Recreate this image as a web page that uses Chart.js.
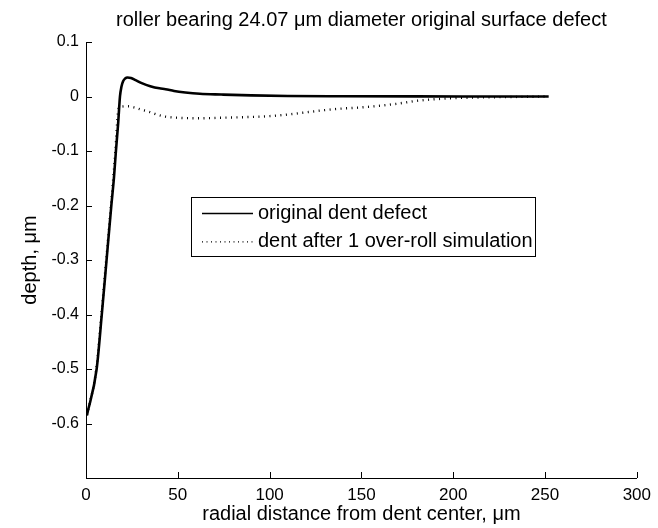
<!DOCTYPE html>
<html><head><meta charset="utf-8">
<script src="https://cdn.jsdelivr.net/npm/chart.js@4/dist/chart.umd.min.js"></script>
<style>html,body{margin:0;padding:0;background:#fff;}#wrap{width:658px;height:528px;position:relative;}</style>
</head><body><div id="wrap"><canvas id="c" width="658" height="528"></canvas></div>
<script>
// ---- data ----
const titleText = 'roller bearing 24.07 \u03bcm diameter original surface defect';
const xTitle = 'radial distance from dent center, \u03bcm';
const yTitle = 'depth, \u03bcm';
const seriesNames = ['original dent defect', 'dent after 1 over-roll simulation'];
const xTicks = [0, 50, 100, 150, 200, 250, 300];
const yTicks = [0.1, 0, -0.1, -0.2, -0.3, -0.4, -0.5, -0.6];

const originalX = [0.5, 5.8, 8.6, 11.2, 13.8, 15.2, 16.3, 17.5, 18.5, 19.3, 20.2, 21.3, 22.6, 24.5, 27, 30.7, 35, 40, 43.3, 48, 54.1, 62, 73.7, 90, 110, 140, 180, 220, 252];
const originalY = [-0.585, -0.5, -0.4, -0.3, -0.2, -0.15, -0.1, -0.05, 0.0, 0.018, 0.028, 0.033, 0.035, 0.034, 0.030, 0.024, 0.019, 0.015, 0.0134, 0.010, 0.0073, 0.005, 0.0036, 0.002, 0.001, 0.0005, 0.0002, 0.0001, 0];

const afterX = [0.5, 5.6, 8.4, 11.0, 13.6, 16.0, 17.4, 18.5, 22.6, 26.2, 30, 34.3, 38.5, 43.3, 50, 61.3, 73.7, 85, 100, 110, 120, 130, 140, 150, 160, 170, 180, 190, 200, 210, 230, 252];
const afterY = [-0.585, -0.5, -0.4, -0.3, -0.2, -0.1, -0.03, -0.019, -0.018, -0.020, -0.024, -0.028, -0.033, -0.037, -0.039, -0.040, -0.039, -0.038, -0.036, -0.033, -0.029, -0.025, -0.022, -0.020, -0.017, -0.013, -0.008, -0.005, -0.003, -0.002, -0.001, 0];

const xRange = [0, 300];
const yRange = [-0.7, 0.1];

// ---- styles ----
const FONT = '"Liberation Sans", Arial, Helvetica, sans-serif';
const toPts = (xs, ys) => xs.map((x, i) => ({x: x, y: ys[i]}));

const inwardTicks = {
  id: 'inwardTicks',
  afterDatasetsDraw(chart) {
    const ctx = chart.ctx, a = chart.chartArea;
    const xs = chart.scales.x, ys = chart.scales.y;
    ctx.save();
    ctx.strokeStyle = '#000'; ctx.lineWidth = 1; ctx.setLineDash([]);
    ctx.beginPath();
    xs.ticks.forEach(t => {
      const px = Math.round(xs.getPixelForValue(t.value)) + 0.5;
      ctx.moveTo(px, a.bottom); ctx.lineTo(px, a.bottom - 6);
    });
    ys.ticks.forEach(t => {
      const py = Math.round(ys.getPixelForValue(t.value)) + 0.5;
      ctx.moveTo(a.left, py); ctx.lineTo(a.left + 6, py);
    });
    ctx.stroke();
    ctx.restore();
  }
};

const legendBox = {
  id: 'legendBox',
  afterDraw(chart) {
    const ctx = chart.ctx;
    const L = 191.5, T = 197.5, R = 535.5, B = 256.5;
    ctx.save();
    ctx.fillStyle = '#fff'; ctx.fillRect(L, T, R - L, B - T);
    ctx.strokeStyle = '#000'; ctx.lineWidth = 1; ctx.setLineDash([]);
    ctx.strokeRect(L, T, R - L, B - T);
    ctx.font = '20px ' + FONT;
    ctx.textBaseline = 'middle'; ctx.textAlign = 'left';
    chart.data.datasets.forEach((ds, i) => {
      const y = 213.5 + i * 28.3;
      ctx.beginPath();
      ctx.setLineDash(i === 0 ? [] : [1, 3.5]);
      ctx.lineWidth = 1.3;
      ctx.strokeStyle = '#000';
      ctx.moveTo(202, y); ctx.lineTo(253, y); ctx.stroke();
      ctx.setLineDash([]);
      ctx.fillStyle = '#000';
      ctx.fillText(ds.label, 258, y);
    });
    ctx.restore();
  }
};

new Chart(document.getElementById('c'), {
  type: 'scatter',
  data: {
    datasets: [
      {label: seriesNames[0], data: toPts(originalX, originalY), showLine: true, borderColor: '#000', borderWidth: 2.6, pointRadius: 0, cubicInterpolationMode: 'monotone', fill: false},
      {label: seriesNames[1], data: toPts(afterX, afterY), showLine: true, borderColor: '#000', borderWidth: 2.4, borderDash: [1, 4.5], pointRadius: 0, cubicInterpolationMode: 'monotone', fill: false}
    ]
  },
  options: {
    responsive: false, animation: false, devicePixelRatio: 1,
    layout: {padding: {left: 0, right: 16, top: 0, bottom: 0}},
    plugins: {
      legend: {display: false},
      tooltip: {enabled: false},
      title: {display: true, text: titleText, fullSize: false, color: '#000', font: {family: FONT, size: 20, weight: 'normal'}, padding: {top: 8, bottom: 10}}
    },
    scales: {
      x: {
        type: 'linear', min: xRange[0], max: xRange[1],
        afterBuildTicks: s => { s.ticks = xTicks.map(v => ({value: v})); },
        afterFit: s => { s.height = 50; },
        grid: {display: true, drawOnChartArea: false, drawTicks: false},
        border: {display: true, color: '#000', width: 1},
        ticks: {color: '#000', font: {family: FONT, size: 17}, padding: 7, maxRotation: 0, autoSkip: false},
        title: {display: true, text: xTitle, color: '#000', font: {family: FONT, size: 20}, padding: {top: 0, bottom: 2}}
      },
      y: {
        type: 'linear', min: yRange[0], max: yRange[1],
        afterBuildTicks: s => { s.ticks = yTicks.map(v => ({value: v})); },
        afterFit: s => { s.width = 86; },
        grid: {display: true, drawOnChartArea: false, drawTicks: false},
        border: {display: true, color: '#000', width: 1},
        ticks: {color: '#000', font: {family: FONT, size: 16}, padding: 7, autoSkip: false,
          callback: v => String(Math.round(v * 10) / 10)},
        title: {display: true, text: yTitle, color: '#000', font: {family: FONT, size: 20}, padding: {top: 18, bottom: 0}}
      }
    }
  },
  plugins: [inwardTicks, legendBox]
});
</script></body></html>
